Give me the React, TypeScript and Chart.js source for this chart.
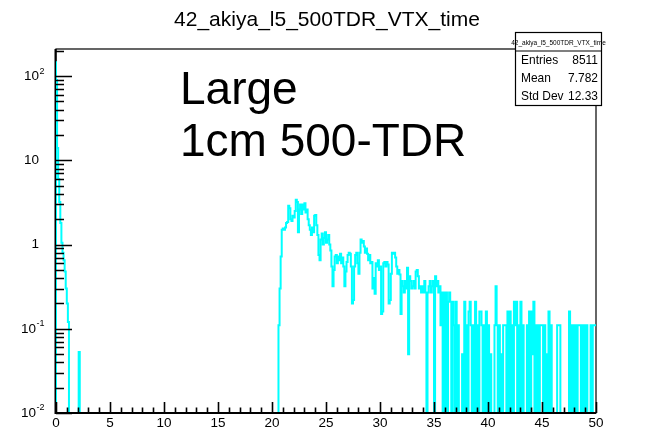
import React, { useEffect, useRef } from "react";
import { Chart, registerables } from "chart.js";

Chart.register(...registerables);

const histTitle = "42_akiya_l5_500TDR_VTX_time";
const noteLines = ["Large", "1cm 500-TDR"];
const statNames = ["Entries", "Mean", "Std Dev"];
const statValues = ["8511", "7.782", "12.33"];

const xMin = 0;
const xMax = 50;
const binCount = 500;
const yMin = 0.01;
const yMax = 210;

const xLabelValues = [0, 5, 10, 15, 20, 25, 30, 35, 40, 45, 50];
const yDecadeExponents = [-2, -1, 0, 1, 2];

// bins 0..22
const headStartBin = 0;
const headValues = [150, 90, 14, 6, 3.2, 1.8, 1.05, 0.8, 0.65, 0.48, 0.3, 0.2, 0.12, 0, 0, 0, 0, 0, 0, 0, 0, 0, 0.053];

// bins 207..339
const bumpStartBin = 207;
const bumpValues = [
  0.11, 0.3, 0.72, 1.5, 1.55, 1.5, 1.6, 1.8, 1.85, 2.9,
  2.7, 2.0, 1.9, 2.2, 2.1, 2.5, 3.4, 3.2, 1.4, 2.6,
  3.0, 2.3, 3.0, 2.6, 3.1, 2.4, 2.6, 2.0, 1.7, 1.5,
  1.3, 1.6, 1.4, 2.2, 2.25, 1.7, 1.3,
  0.75, 0.65, 1.15, 1.35, 1.0, 1.2, 1.4, 1.05, 1.15, 1.3,
  1.0, 0.85, 0.55, 0.32, 0.5, 0.72, 0.75, 0.6, 0.72, 0.65,
  0.78, 0.6, 0.7, 0.55, 0.32, 0.48, 0.62, 0.75, 0.8, 0.78,
  0.55, 0.2, 0.22, 0.55, 0.75, 0.8, 0.6, 0.45,
  0.8, 1.15, 1.05, 1.1, 0.95, 0.8, 0.9, 0.78, 0.65, 0.75,
  0.6, 0.62, 0.3, 0.4, 0.26,
  0.6, 0.55, 0.65, 0.5, 0.55, 0.15, 0.16, 0.6, 0.62, 0.55,
  0.62, 0.58, 0.2, 0.22, 0.45, 0.8, 0.78, 0.8, 0.7, 0.55,
  0.45, 0.5, 0.44, 0.15, 0.37, 0.32, 0.27, 0.37, 0.3, 0.53,
  0.05, 0.42, 0.37, 0.3, 0.32, 0.37, 0.3, 0.48, 0.5, 0.42,
  0.3, 0.32, 0.27,
];

// bins 340..499
const tailStartBin = 340;
const tailValues = [
  0.32, 0.27, 0.37, 0.27, 0, 0.27, 0.32, 0.37, 0.27, 0.32,
  0.37, 0, 0.42, 0.32, 0.37, 0.27, 0.32, 0.11, 0.27, 0,
  0.27, 0, 0.27, 0, 0.21, 0.27, 0.21, 0, 0.21, 0.11,
  0, 0.21, 0, 0.11, 0, 0, 0, 0.05, 0, 0.21,
  0, 0.11, 0, 0.16, 0.21, 0.11, 0, 0.11, 0, 0.21,
  0, 0.11, 0, 0.16, 0.16, 0.11, 0, 0.11, 0, 0.16,
  0, 0.11, 0, 0.05, 0, 0, 0, 0.11, 0.32, 0.11,
  0, 0.11, 0, 0.05, 0, 0.11, 0.11, 0.11, 0, 0.16,
  0, 0.16, 0, 0.11, 0, 0.21, 0.11, 0.21, 0, 0.11,
  0, 0.21, 0, 0.11, 0, 0, 0, 0.11, 0, 0.16,
  0, 0.16, 0.05, 0.21, 0, 0.11, 0, 0.11, 0, 0.11,
  0.11, 0.11, 0, 0.11, 0, 0.05, 0, 0.16, 0, 0.11,
  0, 0, 0, 0, 0, 0.11, 0.11, 0.11, 0, 0,
  0, 0, 0, 0, 0, 0, 0.16, 0, 0.11, 0,
  0.11, 0, 0.11, 0, 0.11, 0.11, 0.11, 0, 0.11, 0,
  0.11, 0, 0.11, 0, 0, 0, 0.11, 0, 0.11, 0.11,
];

// empty bins are drawn below the axis floor (clipped), as ROOT does on a log axis
const emptyBinDrawLevel = 0.005;

const FONT = '"Liberation Sans", Arial, sans-serif';

function buildBins(): number[] {
  const bins: number[] = new Array(binCount).fill(0);
  const segments: [number, number[]][] = [
    [headStartBin, headValues],
    [bumpStartBin, bumpValues],
    [tailStartBin, tailValues],
  ];
  segments.forEach(([start, vals]) => {
    vals.forEach((v, k) => {
      if (start + k < binCount) bins[start + k] = v;
    });
  });
  return bins;
}

const rootStylePlugin = {
  id: "rootStyle",
  beforeDatasetsDraw(chart: any) {
    const { ctx, chartArea: a } = chart;
    ctx.save();
    ctx.strokeStyle = "#000";
    ctx.lineWidth = 1.2;
    ctx.strokeRect(a.left, a.top, a.right - a.left, a.bottom - a.top);
    ctx.lineWidth = 2;
    ctx.beginPath();
    ctx.moveTo(a.left - 0.5, a.top);
    ctx.lineTo(a.left - 0.5, a.bottom);
    ctx.lineTo(a.right, a.bottom);
    ctx.stroke();
    ctx.restore();
  },
  afterDatasetsDraw(chart: any) {
    const { ctx, chartArea: a, scales } = chart;
    const xs = scales.x;
    const ys = scales.y;
    ctx.save();
    ctx.strokeStyle = "#000";
    ctx.fillStyle = "#000";

    // bottom axis line on top of the clipped empty-bin drops
    ctx.lineWidth = 2;
    ctx.beginPath();
    ctx.moveTo(a.left - 1, a.bottom);
    ctx.lineTo(a.right, a.bottom);
    ctx.stroke();

    // y ticks (inside)
    ctx.lineWidth = 1.6;
    ctx.beginPath();
    yDecadeExponents.forEach((e) => {
      for (let m = 1; m <= 9; m++) {
        const v = m * Math.pow(10, e);
        if (v < yMin || v > yMax) continue;
        const py = Math.round(ys.getPixelForValue(v)) + 0.5;
        const len = m === 1 ? 16 : 8;
        ctx.moveTo(a.left, py);
        ctx.lineTo(a.left + len, py);
      }
    });
    ctx.stroke();

    // x ticks (inside)
    ctx.beginPath();
    xs.ticks.forEach((t: any) => {
      const px = Math.round(xs.getPixelForValue(t.value)) + 0.5;
      const len = xLabelValues.includes(t.value) ? 11 : 5.5;
      ctx.moveTo(px, a.bottom);
      ctx.lineTo(px, a.bottom - len);
    });
    ctx.stroke();

    // y labels
    ctx.textBaseline = "middle";
    yDecadeExponents.forEach((e) => {
      const py = ys.getPixelForValue(Math.pow(10, e));
      if (e === 0 || e === 1) {
        ctx.font = `13.5px ${FONT}`;
        ctx.textAlign = "right";
        ctx.fillText(e === 0 ? "1" : "10", 39, py);
      } else {
        const expText = String(e);
        ctx.font = `9px ${FONT}`;
        const ew = ctx.measureText(expText).width;
        const baseRight = 44 - ew;
        ctx.font = `13.5px ${FONT}`;
        ctx.textAlign = "right";
        ctx.fillText("10", baseRight, py);
        ctx.font = `9px ${FONT}`;
        ctx.textAlign = "left";
        ctx.fillText(expText, baseRight + 0.5, py - 5);
      }
    });

    // title
    ctx.font = `21px ${FONT}`;
    ctx.textAlign = "center";
    ctx.textBaseline = "middle";
    ctx.fillText(histTitle, 327, 20);

    // note text
    ctx.font = `46px ${FONT}`;
    ctx.textAlign = "left";
    ctx.textBaseline = "alphabetic";
    ctx.fillText(noteLines[0], 180, 104);
    ctx.fillText(noteLines[1], 180, 156);

    // stats box
    const bx = 515.5, by = 32.5, bw = 86, bh = 73;
    ctx.fillStyle = "#fff";
    ctx.fillRect(bx, by, bw, bh);
    ctx.strokeStyle = "#000";
    ctx.lineWidth = 1.2;
    ctx.strokeRect(bx, by, bw, bh);
    ctx.beginPath();
    ctx.moveTo(bx, 51);
    ctx.lineTo(bx + bw, 51);
    ctx.stroke();
    ctx.fillStyle = "#000";
    ctx.font = `6.5px ${FONT}`;
    ctx.textAlign = "center";
    ctx.textBaseline = "middle";
    ctx.fillText(histTitle, bx + bw / 2, 43);
    const sx = 0.92;
    ctx.font = `13px ${FONT}`;
    statNames.forEach((name, i) => {
      const cy = 60 + i * 18.3;
      ctx.save();
      ctx.scale(sx, 1);
      ctx.textAlign = "left";
      ctx.fillText(name, 521 / sx, cy);
      ctx.textAlign = "right";
      ctx.fillText(statValues[i], 598 / sx, cy);
      ctx.restore();
    });

    ctx.restore();
  },
};

export default function App() {
  const canvasRef = useRef<HTMLCanvasElement | null>(null);

  useEffect(() => {
    const canvas = canvasRef.current;
    if (!canvas) return;
    const bins = buildBins();
    const binWidth = (xMax - xMin) / binCount;
    const drawY = (v: number) => (v > 0 ? v : emptyBinDrawLevel);
    const points: { x: number; y: number }[] = [{ x: xMin, y: emptyBinDrawLevel }];
    bins.forEach((v, i) => points.push({ x: xMin + i * binWidth, y: drawY(v) }));
    points.push({ x: xMax, y: drawY(bins[binCount - 1]) });

    const chart = new Chart(canvas, {
      type: "line",
      data: {
        datasets: [
          {
            data: points,
            borderColor: "#00ffff",
            borderWidth: 2,
            pointRadius: 0,
            stepped: "after",
            fill: false,
            tension: 0,
          },
        ],
      },
      options: {
        animation: false,
        responsive: false,
        maintainAspectRatio: false,
        devicePixelRatio: 1,
        parsing: false,
        normalized: true,
        layout: { padding: { top: 49, right: 51, left: 0, bottom: 0 } },
        plugins: {
          legend: { display: false },
          tooltip: { enabled: false },
          title: { display: false },
        },
        scales: {
          x: {
            type: "linear",
            min: xMin,
            max: xMax,
            grid: { display: false, drawTicks: false },
            border: { display: false },
            afterBuildTicks: (scale: any) => {
              const t = [];
              for (let v = xMin; v <= xMax; v += 1) t.push({ value: v });
              scale.ticks = t;
            },
            afterFit: (scale: any) => {
              scale.height = 16;
            },
            ticks: {
              autoSkip: false,
              maxRotation: 0,
              padding: 2,
              color: "#000",
              font: { family: FONT, size: 13.5 },
              callback: (v: any) => (xLabelValues.includes(Number(v)) ? String(v) : ""),
            },
          },
          y: {
            type: "logarithmic",
            min: yMin,
            max: yMax,
            grid: { display: false, drawTicks: false },
            border: { display: false },
            ticks: { display: false },
            afterFit: (scale: any) => {
              scale.width = 56;
            },
          },
        },
      },
      plugins: [rootStylePlugin],
    });
    return () => chart.destroy();
  }, []);

  return (
    <div style={{ position: "fixed", left: 0, top: 0, width: 647, height: 429, background: "#fff" }}>
      <canvas ref={canvasRef} width={647} height={429} style={{ display: "block" }} />
    </div>
  );
}
